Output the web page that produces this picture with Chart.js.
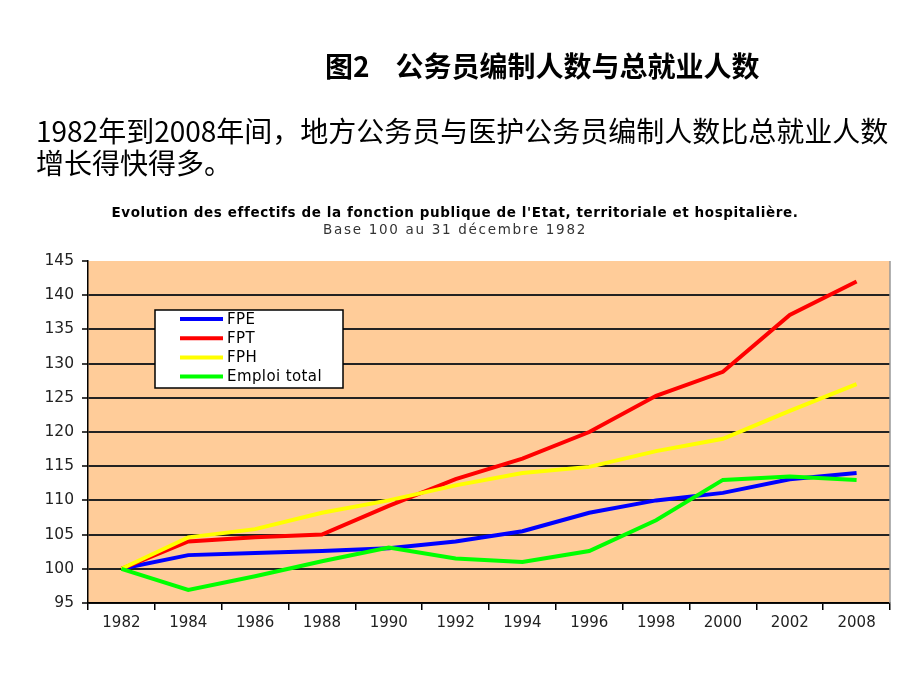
<!DOCTYPE html>
<html>
<head>
<meta charset="utf-8">
<script src="https://cdn.jsdelivr.net/npm/chart.js@4/dist/chart.umd.min.js"></script>
<style>
  body { margin: 0; background: #fff; }
  #wrap { position: relative; width: 920px; height: 690px; overflow: hidden; }
  #myChart { position: absolute; left: 0; top: 0; }
  .head { position: absolute; font-family: "Noto Sans CJK SC", sans-serif; color: #000; white-space: nowrap; }
  #title { left: 325px; top: 49px; font-size: 28px; line-height: 32px; font-weight: bold; }
  #title span { margin-left: 26px; }
  #para { left: 36px; top: 114px; font-size: 28px; line-height: 32px; }
</style>
</head>
<body>
<div id="wrap">
  <canvas id="myChart" width="920" height="690"></canvas>
  <div class="head" id="title">图2<span>公务员编制人数与总就业人数</span></div>
  <div class="head" id="para">1982年到2008年间，地方公务员与医护公务员编制人数比总就业人数<br>增长得快得多。</div>
</div>
<script>
// categories and series (base 100 = 1982)
var years = ['1982', '1984', '1986', '1988', '1990', '1992', '1994', '1996', '1998', '2000', '2002', '2008'];
var fpe = [100, 102.0, 102.3, 102.6, 103.0, 104.0, 105.5, 108.2, 110.0, 111.1, 113.1, 114.0];
var fpt = [100, 104.0, 104.6, 105.0, 109.2, 113.1, 116.1, 120.0, 125.3, 128.8, 137.1, 142.0];
var fph = [100, 104.6, 105.8, 108.2, 110.0, 112.2, 114.0, 114.9, 117.2, 119.0, 123.1, 127.0];
var emploi = [100, 96.9, 98.9, 101.1, 103.1, 101.5, 101.0, 102.6, 107.1, 113.0, 113.5, 113.0];
var seriesNames = ['FPE', 'FPT', 'FPH', 'Emploi total'];
var seriesColors = ['#0000ff', '#ff0000', '#ffff00', '#00ff00'];

var chartTitle = "Evolution des effectifs de la fonction publique de l'Etat, territoriale et hospitalière.";
var chartSubtitle = 'Base 100 au 31 décembre 1982';

// background of the plot area + titles
var plotBg = {
	id: 'plotBg',
	beforeDraw: function(chart) {
		var ctx = chart.ctx;
		var a = chart.chartArea;
		ctx.save();
		ctx.fillStyle = '#ffcc99';
		ctx.fillRect(a.left, a.top, a.right - a.left, a.bottom - a.top);
		ctx.restore();
	},
	afterDraw: function(chart) {
		var ctx = chart.ctx;
		var a = chart.chartArea;
		ctx.save();
		// right border
		ctx.strokeStyle = '#999';
		ctx.lineWidth = 1.5;
		ctx.beginPath();
		ctx.moveTo(a.right, a.top);
		ctx.lineTo(a.right, a.bottom);
		ctx.stroke();
		// titles
		ctx.textAlign = 'center';
		ctx.textBaseline = 'middle';
		ctx.fillStyle = '#000';
		ctx.font = 'bold 13.5px "DejaVu Sans"';
		ctx.letterSpacing = '0.6px';
		ctx.fillText(chartTitle, 455, 213);
		ctx.fillStyle = '#333';
		ctx.font = '13.5px "DejaVu Sans"';
		ctx.letterSpacing = '1.7px';
		ctx.fillText(chartSubtitle, 455, 230);
		ctx.restore();
	}
};

// legend box inside the plot
var boxLegend = {
	id: 'boxLegend',
	afterDatasetsDraw: function(chart) {
		var ctx = chart.ctx;
		ctx.save();
		ctx.fillStyle = '#fff';
		ctx.fillRect(155, 310, 188, 78);
		ctx.strokeStyle = '#000';
		ctx.lineWidth = 1.5;
		ctx.strokeRect(155, 310, 188, 78);
		ctx.font = '15px "DejaVu Sans"';
		ctx.letterSpacing = '0.4px';
		ctx.textBaseline = 'middle';
		for (var i = 0; i < seriesNames.length; i++) {
			var y = 319 + i * 19.2;
			ctx.strokeStyle = seriesColors[i];
			ctx.lineWidth = 4;
			ctx.beginPath();
			ctx.moveTo(180, y);
			ctx.lineTo(223, y);
			ctx.stroke();
			ctx.fillStyle = '#000';
			ctx.fillText(seriesNames[i], 227, y + 1);
		}
		ctx.restore();
	}
};

var allData = [fpe, fpt, fph, emploi];
var datasets = [];
for (var i = 0; i < allData.length; i++) {
	datasets.push({
		label: seriesNames[i],
		data: allData[i],
		borderColor: seriesColors[i],
		backgroundColor: seriesColors[i],
		borderWidth: 4,
		pointRadius: 0,
		tension: 0,
		fill: false,
		order: allData.length - i
	});
}

var ctx = document.getElementById('myChart').getContext('2d');
var chart = new Chart(ctx, {
	type: 'line',
	data: {
		labels: years,
		datasets: datasets
	},
	plugins: [plotBg, boxLegend],
	options: {
		responsive: false,
		animation: false,
		layout: { padding: { left: 28, right: 30, top: 261, bottom: 47 } },
		plugins: {
			legend: { display: false },
			title: { display: false },
			tooltip: { enabled: false }
		},
		scales: {
			x: {
				offset: true,
				afterFit: function(s) { s.height = 40; },
				grid: {
					offset: true,
					drawOnChartArea: false,
					drawTicks: true,
					tickLength: 7,
					color: '#000',
					lineWidth: 1.5
				},
				border: { display: true, color: '#000', width: 1.5 },
				ticks: {
					color: '#222',
					padding: 4,
					maxRotation: 0,
					font: { family: 'DejaVu Sans', size: 15 }
				}
			},
			y: {
				min: 95,
				max: 145,
				afterFit: function(s) { s.width = 60; },
				grid: {
					color: function(c) { return c.tick && c.tick.value === 145 ? 'rgba(0,0,0,0)' : '#222'; },
					lineWidth: 2,
					tickLength: 6,
					tickColor: '#000',
					tickWidth: 1.5
				},
				border: { display: true, color: '#000', width: 1.5 },
				ticks: {
					stepSize: 5,
					color: '#222',
					padding: 8,
					font: { family: 'DejaVu Sans', size: 15.5 }
				}
			}
		}
	}
});
</script>
</body>
</html>
